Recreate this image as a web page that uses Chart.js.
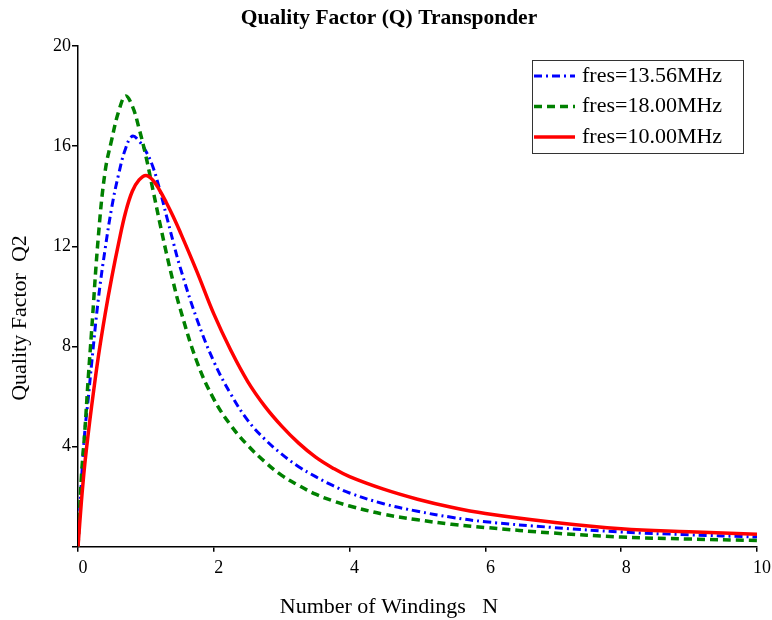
<!DOCTYPE html>
<html>
<head>
<meta charset="utf-8">
<title>Quality Factor (Q) Transponder</title>
<script src="https://cdn.jsdelivr.net/npm/chart.js@4.4.1/dist/chart.umd.min.js"></script>
<style>
  html, body { margin: 0; padding: 0; background: #fff; }
  #wrap { width: 772px; height: 620px; }
</style>
</head>
<body>
<div id="wrap"><canvas id="chart" width="772" height="620"></canvas></div>
<script>
// Number of windings N (shared x values)
const windings = [0, 0.05, 0.1, 0.15, 0.2, 0.3, 0.4, 0.5, 0.6, 0.7, 0.8, 0.9, 1.0, 1.1, 1.2, 1.3, 1.4, 1.5,
  1.75, 2, 2.25, 2.5, 2.75, 3, 3.25, 3.5, 3.75, 4, 4.5, 5, 5.5, 6, 7, 8, 9, 10];

// Q2 values
const q1356 = [0, 2.6, 4.6, 5.9, 7.3, 9.9, 11.9, 13.6, 14.9, 15.9, 16.4, 16.2, 15.8, 15.2, 14.3, 13.25, 12.2, 11.2,
  9.1, 7.4, 6.1, 5.05, 4.3, 3.7, 3.2, 2.8, 2.45, 2.15, 1.72, 1.42, 1.18, 1.0, 0.77, 0.59, 0.48, 0.39];
const q1800 = [0, 2.8, 4.6, 6.7, 8.6, 12.4, 15.0, 16.3, 17.4, 18.0, 17.6, 16.7, 15.6, 14.3, 13.0, 11.75, 10.6, 9.55,
  7.4, 5.9, 4.85, 4.05, 3.4, 2.85, 2.45, 2.1, 1.84, 1.63, 1.3, 1.08, 0.9, 0.77, 0.55, 0.39, 0.31, 0.25];
const q1000 = [0, 1.8, 3.3, 4.5, 5.6, 7.6, 9.3, 10.8, 12.15, 13.35, 14.2, 14.65, 14.83, 14.65, 14.25, 13.75, 13.2, 12.6,
  11.0, 9.3, 7.85, 6.6, 5.62, 4.82, 4.14, 3.58, 3.15, 2.8, 2.3, 1.9, 1.58, 1.33, 0.98, 0.72, 0.6, 0.5];

const seriesLabels = ['fres=13.56MHz', 'fres=18.00MHz', 'fres=10.00MHz'];
const xTicks = [0, 2, 4, 6, 8, 10];
const yTicks = [4, 8, 12, 16, 20];

const SERIF = "'Liberation Serif', 'Times New Roman', serif";

function toPoints(values) {
  return windings.map((n, i) => ({ x: n, y: values[i] }));
}

// 图例：画在图内右上角，带边框
const boxLegend = {
  id: 'boxLegend',
  afterDatasetsDraw(chart) {
    const ctx = chart.ctx;
    const left = 532, top = 60, w = 211, h = 93;
    ctx.save();
    ctx.fillStyle = '#fff';
    ctx.fillRect(left, top, w, h);
    ctx.lineWidth = 1;
    ctx.strokeStyle = '#333';
    ctx.strokeRect(left + 0.5, top + 0.5, w, h);
    chart.data.datasets.forEach((ds, i) => {
      const y = 76 + i * 30.5;
      ctx.beginPath();
      ctx.strokeStyle = ds.borderColor;
      ctx.lineWidth = ds.borderWidth;
      ctx.setLineDash(ds.borderDash || []);
      ctx.moveTo(534, y);
      ctx.lineTo(575, y);
      ctx.stroke();
      ctx.setLineDash([]);
      ctx.fillStyle = '#000';
      ctx.font = '22px ' + SERIF;
      ctx.textAlign = 'left';
      ctx.textBaseline = 'middle';
      ctx.fillText(ds.label, 582, y);
    });
    ctx.restore();
  }
};

// y轴标题（相对整张图居中）
const yTitle = {
  id: 'yTitle',
  afterDraw(chart) {
    const ctx = chart.ctx;
    ctx.save();
    ctx.translate(20, 318);
    ctx.rotate(-Math.PI / 2);
    ctx.fillStyle = '#000';
    ctx.font = '22px ' + SERIF;
    ctx.textAlign = 'center';
    ctx.textBaseline = 'middle';
    ctx.fillText('Quality Factor  Q2', 0, 0);
    ctx.restore();
  }
};

const ctx = document.getElementById('chart').getContext('2d');
new Chart(ctx, {
  type: 'line',
  data: {
    datasets: [
      {
        label: seriesLabels[0],
        data: toPoints(q1356),
        borderColor: '#0000ff',
        borderWidth: 3,
        borderDash: [8, 4, 2, 4],
        order: 2
      },
      {
        label: seriesLabels[1],
        data: toPoints(q1800),
        borderColor: '#008000',
        borderWidth: 3.5,
        borderDash: [8, 5],
        order: 1
      },
      {
        label: seriesLabels[2],
        data: toPoints(q1000),
        borderColor: '#ff0000',
        borderWidth: 3.5,
        order: 0
      }
    ]
  },
  options: {
    responsive: false,
    animation: false,
    devicePixelRatio: 1,
    layout: { padding: { left: 6, right: 0, top: 0, bottom: 0 } },
    elements: {
      point: { radius: 0 },
      line: { tension: 0.4, fill: false }
    },
    scales: {
      x: {
        type: 'linear',
        min: 0,
        max: 10,
        afterBuildTicks(scale) { scale.ticks = xTicks.map(v => ({ value: v })); },
        afterFit(scale) { scale.height = 46.8; },
        grid: { drawOnChartArea: false, drawTicks: true, tickLength: 5, color: '#000', lineWidth: 1.5 },
        border: { color: '#000', width: 1.5 },
        ticks: {
          color: '#000',
          font: { family: SERIF, size: 18 },
          padding: 6,
          labelOffset: 5,
          maxRotation: 0
        }
      },
      y: {
        type: 'linear',
        min: 0,
        max: 20,
        afterBuildTicks(scale) { scale.ticks = [0].concat(yTicks).map(v => ({ value: v })); },
        afterFit(scale) { scale.width = 72; },
        grid: { drawOnChartArea: false, drawTicks: true, tickLength: 6, color: '#000', lineWidth: 1.5 },
        border: { color: '#000', width: 1.5 },
        ticks: {
          color: '#000',
          font: { family: SERIF, size: 18 },
          padding: 1,
          callback: v => (v === 0 ? '' : v)
        }
      },
      // 右侧留白用的空轴
      yRight: {
        type: 'linear',
        position: 'right',
        min: 0,
        max: 20,
        afterFit(scale) { scale.width = 15; },
        grid: { display: false },
        border: { display: false },
        ticks: { display: false }
      }
    },
    plugins: {
      legend: { display: false },
      tooltip: { enabled: false },
      title: {
        display: true,
        text: 'Quality Factor (Q) Transponder',
        color: '#000',
        font: { family: SERIF, size: 21.5, weight: 'bold' },
        padding: { top: 6, bottom: 14.2 }
      },
      subtitle: {
        display: true,
        position: 'bottom',
        text: 'Number of Windings   N',
        color: '#000',
        font: { family: SERIF, size: 22, weight: 'normal' },
        padding: { top: 0, bottom: 0 }
      }
    }
  },
  plugins: [boxLegend, yTitle]
});
</script>
</body>
</html>
